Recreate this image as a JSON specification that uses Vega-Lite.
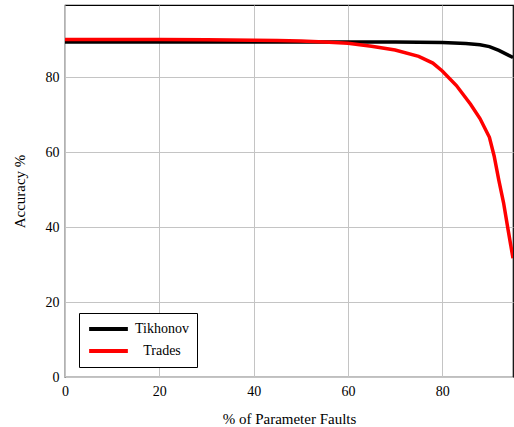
{
  "$schema": "https://vega.github.io/schema/vega-lite/v6.json",
  "width": 448,
  "height": 372,
  "autosize": {"type": "none"},
  "padding": {"left": 65, "top": 5, "right": 1, "bottom": 50},
  "background": "white",
  "config": {
    "font": "Liberation Serif",
    "view": {"stroke": "black", "strokeWidth": 1.2},
    "axis": {
      "labelFont": "Liberation Serif",
      "titleFont": "Liberation Serif",
      "labelFontSize": 14,
      "titleFontSize": 15,
      "titleFontWeight": "normal",
      "labelColor": "black",
      "titleColor": "black",
      "gridColor": "#c4c4c4",
      "gridWidth": 1,
      "domain": false,
      "ticks": false,
      "labelFlush": false
    },
    "legend": {
      "labelFont": "Liberation Serif"
    }
  },
  "data": {
    "values": [
      {"x": 0, "acc": 89.4, "method": "Tikhonov"},
      {"x": 10, "acc": 89.4, "method": "Tikhonov"},
      {"x": 20, "acc": 89.4, "method": "Tikhonov"},
      {"x": 30, "acc": 89.4, "method": "Tikhonov"},
      {"x": 40, "acc": 89.4, "method": "Tikhonov"},
      {"x": 50, "acc": 89.4, "method": "Tikhonov"},
      {"x": 60, "acc": 89.4, "method": "Tikhonov"},
      {"x": 70, "acc": 89.4, "method": "Tikhonov"},
      {"x": 80, "acc": 89.3, "method": "Tikhonov"},
      {"x": 85, "acc": 89.0, "method": "Tikhonov"},
      {"x": 88, "acc": 88.7, "method": "Tikhonov"},
      {"x": 90, "acc": 88.2, "method": "Tikhonov"},
      {"x": 92, "acc": 87.2, "method": "Tikhonov"},
      {"x": 95, "acc": 85.3, "method": "Tikhonov"},
      {"x": 0, "acc": 90.1, "method": "Trades"},
      {"x": 10, "acc": 90.1, "method": "Trades"},
      {"x": 20, "acc": 90.1, "method": "Trades"},
      {"x": 30, "acc": 90.0, "method": "Trades"},
      {"x": 40, "acc": 89.9, "method": "Trades"},
      {"x": 45, "acc": 89.8, "method": "Trades"},
      {"x": 50, "acc": 89.7, "method": "Trades"},
      {"x": 55, "acc": 89.4, "method": "Trades"},
      {"x": 60, "acc": 89.1, "method": "Trades"},
      {"x": 65, "acc": 88.3, "method": "Trades"},
      {"x": 70, "acc": 87.3, "method": "Trades"},
      {"x": 75, "acc": 85.6, "method": "Trades"},
      {"x": 78, "acc": 83.8, "method": "Trades"},
      {"x": 80, "acc": 81.7, "method": "Trades"},
      {"x": 83, "acc": 77.8, "method": "Trades"},
      {"x": 86, "acc": 72.8, "method": "Trades"},
      {"x": 88, "acc": 69.0, "method": "Trades"},
      {"x": 90, "acc": 64.0, "method": "Trades"},
      {"x": 91, "acc": 59.0, "method": "Trades"},
      {"x": 92, "acc": 52.5, "method": "Trades"},
      {"x": 93, "acc": 46.5, "method": "Trades"},
      {"x": 94, "acc": 39.0, "method": "Trades"},
      {"x": 95, "acc": 31.7, "method": "Trades"}
    ]
  },
  "mark": {"type": "line", "strokeWidth": 3.5, "clip": true},
  "encoding": {
    "x": {
      "field": "x",
      "type": "quantitative",
      "scale": {"domain": [0, 95], "nice": false},
      "axis": {"values": [0, 20, 40, 60, 80], "title": "% of Parameter Faults", "labelPadding": 7, "titlePadding": 13}
    },
    "y": {
      "field": "acc",
      "type": "quantitative",
      "scale": {"domain": [0, 99.3], "nice": false},
      "axis": {"values": [0, 20, 40, 60, 80], "title": "Accuracy %", "labelPadding": 6, "titlePadding": 18}
    },
    "color": {
      "field": "method",
      "type": "nominal",
      "scale": {"domain": ["Tikhonov", "Trades"], "range": ["black", "#ff0000"]},
      "legend": {
        "title": null,
        "orient": "none",
        "legendX": 14,
        "legendY": 308,
        "strokeColor": "black",
        "fillColor": "white",
        "padding": 8,
        "symbolType": "stroke",
        "symbolSize": 1500,
        "symbolStrokeWidth": 4,
        "clipHeight": 16,
        "labelFont": "Liberation Serif",
        "labelFontSize": 14,
        "labelColor": "black",
        "labelAlign": "center",
        "labelOffset": 32,
        "rowPadding": 6
      }
    }
  }
}
